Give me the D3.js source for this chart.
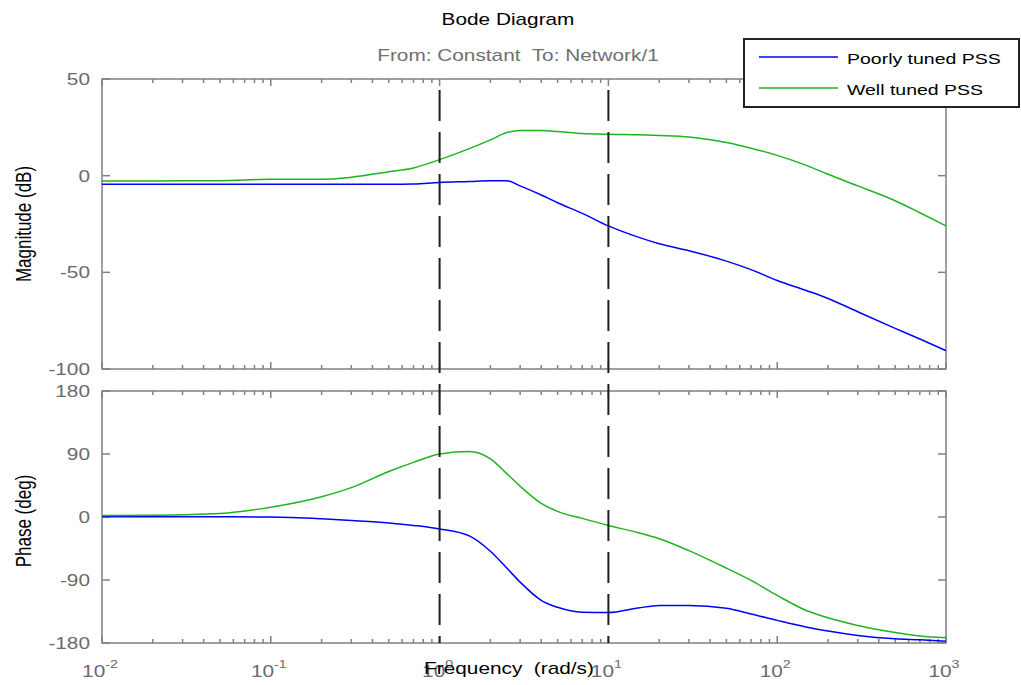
<!DOCTYPE html>
<html>
<head>
<meta charset="utf-8">
<script src="https://cdn.jsdelivr.net/npm/d3@7"></script>
<style>
  body { margin: 0; background: #fff; }
  svg text { font-family: "Liberation Sans", Arial, sans-serif; white-space: pre; }
</style>
</head>
<body>
<div id="chart"></div>
<script>
// frequencies (rad/s) the curves were read at
const omega = [0.01, 0.02, 0.05, 0.1, 0.2, 0.3, 0.5, 0.7, 1, 1.5, 2, 2.5, 3, 4, 5, 7,
               10, 15, 20, 30, 50, 70, 100, 150, 200, 300, 500, 700, 1000];
const magPoor = [-4.5, -4.5, -4.5, -4.5, -4.5, -4.5, -4.5, -4.3, -3.5, -3.0, -2.6, -2.6, -5.3, -10, -14, -19.5,
                 -26, -31.8, -35.2, -38.8, -44.2, -48.6, -54.2, -59.5, -63.5, -70.4, -79, -84.5, -90.5];
const magWell = [-2.7, -2.7, -2.6, -1.9, -1.9, -0.8, 2.0, 4.0, 8.3, 14, 18.5, 22.3, 23.3, 23.3, 22.8, 21.8,
                 21.4, 21.2, 20.8, 20, 17.1, 14.2, 10.5, 5.2, 0.7, -5.3, -13, -19.2, -26];
const phasePoor = [0.5, 0.5, 0.3, 0, -2.6, -5, -8.5, -12, -17, -27, -49, -73, -93, -119, -129, -136,
                   -136.5, -130, -126.5, -126.5, -130.5, -138.5, -147.7, -157.4, -163, -169.2, -174, -175.5, -177.4];
const phaseWell = [2, 2.5, 5, 14, 29, 42, 65, 78, 90, 93.5, 83, 62, 44, 19.5, 8, -2,
                   -12, -22.4, -31, -48, -73, -90.5, -112, -134, -144, -155, -165, -170, -172.5];

const magTicks = [-100, -50, 0, 50];
const phaseTicks = [-180, -90, 0, 90, 180];
const decadeExp = [-2, -1, 0, 1, 2, 3];
const markerFreqs = [1, 10];
const seriesNames = ["Poorly tuned PSS", "Well tuned PSS"];
const seriesColors = ["#0000ff", "#1fb41f"];

const W = 1021, H = 685;
const SX = 1.3; // text in the picture is stretched sideways

const svg = d3.select("#chart").append("svg")
    .attr("width", W).attr("height", H);

const x = d3.scaleLog().domain([1e-2, 1e3]).range([102, 946]);
const yMag = d3.scaleLinear().domain([-100, 50]).range([369, 79]);
const yPh = d3.scaleLinear().domain([-180, 180]).range([643, 391]);

function label(g, tx, ty, str, size, fill, anchor) {
    return g.append("text")
        .attr("transform", `translate(${tx},${ty}) scale(${SX},1)`)
        .attr("text-anchor", anchor || "start")
        .attr("xml:space", "preserve")
        .style("font-size", size + "px")
        .style("fill", fill)
        .text(str);
}

const axisColor = "#808080";
const tickColor = "#6a6a6a";
const minorTicks = x.ticks().filter(d => Math.abs(Math.log10(d) - Math.round(Math.log10(d))) > 1e-9);
const majorTicks = decadeExp.map(e => Math.pow(10, e));

function panel(y, ticks) {
    const [y0, y1] = y.range();   // bottom, top
    const g = svg.append("g");
    g.append("rect")
        .attr("x", x(1e-2)).attr("y", y1)
        .attr("width", x(1e3) - x(1e-2)).attr("height", y0 - y1)
        .attr("fill", "none").attr("stroke", axisColor).attr("stroke-width", 1.5);

    // x ticks, top and bottom, inward
    [[y0, -1], [y1, 1]].forEach(([yy, dir]) => {
        g.selectAll(null).data(minorTicks).join("line")
            .attr("x1", d => x(d)).attr("x2", d => x(d))
            .attr("y1", yy).attr("y2", yy + dir * 4)
            .attr("stroke", axisColor).attr("stroke-width", 1.5);
        g.selectAll(null).data(majorTicks).join("line")
            .attr("x1", d => x(d)).attr("x2", d => x(d))
            .attr("y1", yy).attr("y2", yy + dir * 7)
            .attr("stroke", axisColor).attr("stroke-width", 1.5);
    });
    // y ticks, left and right, inward
    [[x(1e-2), 1], [x(1e3), -1]].forEach(([xx, dir]) => {
        g.selectAll(null).data(ticks).join("line")
            .attr("x1", xx).attr("x2", xx + dir * 8)
            .attr("y1", d => y(d)).attr("y2", d => y(d))
            .attr("stroke", axisColor).attr("stroke-width", 1.5);
    });
    ticks.forEach(t => {
        label(g, 90, y(t) + 6, t, 16, tickColor, "end");
    });
    return g;
}

panel(yMag, magTicks);
panel(yPh, phaseTicks);

// x tick labels 10^n
decadeExp.forEach(e => {
    const t = svg.append("text")
        .attr("transform", `translate(${x(Math.pow(10, e)) - 2},677) scale(${SX},1)`)
        .attr("text-anchor", "middle")
        .style("fill", tickColor);
    t.append("tspan").style("font-size", "16px").text("10");
    t.append("tspan").attr("dy", -9).style("font-size", "11px").text(e);
});

// curves
const magSeries = [magPoor, magWell];
const phaseSeries = [phasePoor, phaseWell];
function curve(y) {
    return d3.line()
        .x((d, i) => x(omega[i]))
        .y(d => y(d))
        .curve(d3.curveMonotoneX);
}
magSeries.forEach((s, i) => {
    svg.append("path").datum(s)
        .attr("d", curve(yMag))
        .attr("fill", "none").attr("stroke", seriesColors[i]).attr("stroke-width", 1.5);
});
phaseSeries.forEach((s, i) => {
    svg.append("path").datum(s)
        .attr("d", curve(yPh))
        .attr("fill", "none").attr("stroke", seriesColors[i]).attr("stroke-width", 1.5);
});

// dashed frequency markers across both panels
svg.selectAll(".marker").data(markerFreqs).join("line")
    .attr("class", "marker")
    .attr("x1", d => x(d)).attr("x2", d => x(d))
    .attr("y1", yMag(50)).attr("y2", yPh(-180))
    .attr("stroke", "#1e1e1e").attr("stroke-width", 2)
    .attr("stroke-dasharray", "31,11")
    .attr("stroke-dashoffset", 31);

// titles
label(svg, 508, 25, "Bode Diagram", 16, "#000", "middle");
label(svg, 518, 61, "From: Constant  To: Network/1", 16, "#707070", "middle");
label(svg, 509, 674, "Frequency  (rad/s)", 16, "#000", "middle");

svg.append("text")
    .attr("transform", `translate(31,224) rotate(-90) scale(1,1.25)`)
    .attr("text-anchor", "middle")
    .style("font-size", "17px")
    .text("Magnitude (dB)");
svg.append("text")
    .attr("transform", `translate(31,521) rotate(-90) scale(1,1.25)`)
    .attr("text-anchor", "middle")
    .style("font-size", "17px")
    .text("Phase (deg)");

// legend
const leg = svg.append("g");
leg.append("rect")
    .attr("x", 744).attr("y", 39).attr("width", 275).attr("height", 68)
    .attr("fill", "#fff").attr("stroke", "#222").attr("stroke-width", 2);
seriesNames.forEach((name, i) => {
    const yy = 57 + i * 31;
    leg.append("line")
        .attr("x1", 759).attr("x2", 838).attr("y1", yy).attr("y2", yy)
        .attr("stroke", seriesColors[i]).attr("stroke-width", 1.5);
    label(leg, 847, yy + 7, name, 15, "#000");
});
</script>
</body>
</html>
